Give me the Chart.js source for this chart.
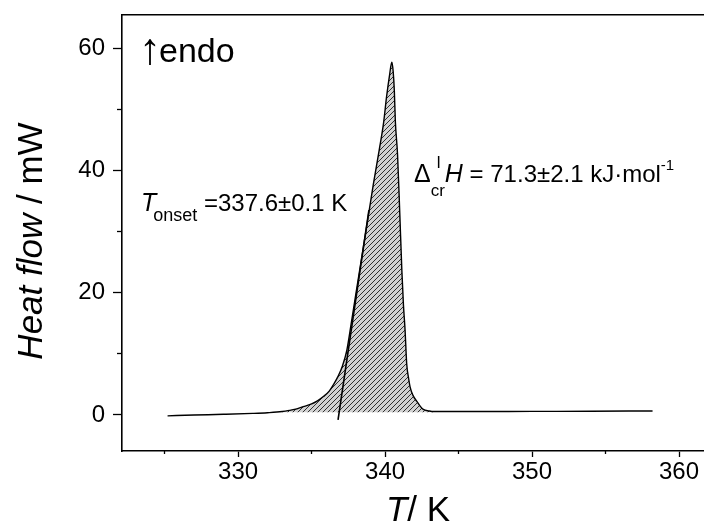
<!DOCTYPE html>
<html>
<head>
<meta charset="utf-8">
<script src="https://cdn.jsdelivr.net/npm/chart.js@4"></script>
<style>
  body { margin: 0; background: #fff; }
  #wrap { width: 704px; height: 525px; }
</style>
</head>
<body>
<div id="wrap"><canvas id="dsc" width="704" height="525"></canvas></div>
<script>
// DSC-kurva
const tempK = [
  325.2, 327, 329, 331, 332, 333, 333.5, 334, 334.5, 335, 335.4, 335.8, 336.2, 336.5, 336.8,
  337.1, 337.4, 337.7, 338.0, 338.4, 338.8, 339.2, 339.6, 339.9, 340.1, 340.3, 340.46,
  340.55, 340.63, 340.7, 340.85, 341.0, 341.14, 341.25, 341.36, 341.47, 341.6, 341.7,
  341.9, 342.16, 342.4, 342.6, 343.0, 343.3, 346, 350, 354, 358.2
];
const heatFlow = [
  -0.15, -0.02, 0.1, 0.25, 0.36, 0.55, 0.75, 1.0, 1.4, 1.8, 2.3, 3.0, 3.9, 5.0, 6.3,
  8.0, 10.6, 15.0, 19.6, 25.6, 31.6, 37.7, 43.3, 47.8, 52.0, 55.5, 57.7,
  56.2, 53.0, 48.0, 42.5, 33.0, 23.7, 18.0, 13.9, 8.4, 6.0, 4.6,
  3.2, 2.2, 1.4, 0.9, 0.65, 0.55, 0.55, 0.58, 0.6, 0.65
];

// tangent för onset
const tangentK = [336.8, 338.9];
const tangentMW = [-0.8, 33.5];

// skrafferad yta (integrerad topp)
const areaFrom = 333.0;
const areaTo = 343.3;
const areaBase = 0.45;

const xMajor = [330, 340, 350, 360];
const xMinor = [325, 335, 345, 355];
const yMajor = [0, 20, 40, 60];
const yMinor = [10, 30, 50];

const FONT = "'Liberation Sans', Arial, sans-serif";

function hatch() {
  const n = 5;
  const c = document.createElement('canvas');
  c.width = n; c.height = n;
  const g = c.getContext('2d');
  g.fillStyle = '#d2d2d2';
  g.fillRect(0, 0, n, n);
  g.strokeStyle = '#303030';
  g.lineWidth = 1;
  g.beginPath();
  g.moveTo(-1, n + 1); g.lineTo(n + 1, -1);
  g.moveTo(-1, 1); g.lineTo(1, -1);
  g.moveTo(n - 1, n + 1); g.lineTo(n + 1, n - 1);
  g.stroke();
  return g.createPattern(c, 'repeat');
}

// text i flera delar (kursiv, index, exponent)
function parts(ctx, x, y, list) {
  list.forEach(p => {
    ctx.font = (p.italic ? 'italic ' : '') + p.size + 'px ' + FONT;
    ctx.fillText(p.t, x + (p.dx || 0), y + (p.dy || 0));
    if (!p.noAdvance) x += ctx.measureText(p.t).width + (p.dx || 0);
  });
}

const textPlugin = {
  id: 'texts',
  afterDraw(chart) {
    const ctx = chart.ctx;
    ctx.save();
    ctx.fillStyle = '#000';
    ctx.textBaseline = 'alphabetic';
    ctx.textAlign = 'left';

    // ↑endo
    parts(ctx, 139, 62, [
      { t: '↑', size: 44, dy: 2 },
      { t: 'endo', size: 34, dx: -2 }
    ]);

    // T onset
    parts(ctx, 141, 211, [
      { t: 'T', size: 25, italic: true },
      { t: 'onset', size: 18, dy: 10, dx: -3 },
      { t: ' =337.6±0.1 K', size: 24 }
    ]);

    // ΔH
    parts(ctx, 414, 182, [
      { t: 'Δ', size: 25 },
      { t: 'l', size: 17, dy: -14, dx: 6, noAdvance: true },
      { t: 'cr', size: 17, dy: 14 },
      { t: 'H', size: 25, italic: true },
      { t: ' = 71.3±2.1 kJ·mol', size: 24 },
      { t: '-1', size: 15, dy: -12 }
    ]);

    // axeltitlar
    ctx.font = 'italic 35px ' + FONT;
    const a = ctx.measureText('T').width;
    ctx.font = '35px ' + FONT;
    const b = ctx.measureText('/ K').width;
    parts(ctx, 418 - (a + b) / 2, 521, [
      { t: 'T', size: 35, italic: true },
      { t: '/ K', size: 35 }
    ]);

    ctx.font = 'italic 35px ' + FONT;
    const c1 = ctx.measureText('Heat flow').width;
    ctx.font = '35px ' + FONT;
    const c2 = ctx.measureText(' / mW').width;
    ctx.translate(42, 241);
    ctx.rotate(-Math.PI / 2);
    parts(ctx, -(c1 + c2) / 2, 0, [
      { t: 'Heat flow', size: 35, italic: true },
      { t: ' / mW', size: 35 }
    ]);
    ctx.restore();
  }
};

const curve = tempK.map((t, i) => ({ x: t, y: heatFlow[i] }));
const area = curve.filter(p => p.x >= areaFrom && p.x <= areaTo);
const tangent = tangentK.map((t, i) => ({ x: t, y: tangentMW[i] }));

const xMin = 322.1, xMax = 361.7;
const yMin = -5.9, yMax = 65.4;
const tickFont = { family: FONT, size: 24 };

new Chart(document.getElementById('dsc'), {
  type: 'line',
  data: {
    datasets: [
      {
        data: area,
        borderWidth: 0,
        pointRadius: 0,
        backgroundColor: hatch(),
        fill: { value: areaBase },
        cubicInterpolationMode: 'monotone',
        order: 3
      },
      {
        data: tangent,
        borderColor: '#000',
        borderWidth: 1.6,
        pointRadius: 0,
        fill: false,
        order: 2
      },
      {
        data: curve,
        borderColor: '#000',
        borderWidth: 1.4,
        pointRadius: 0,
        fill: false,
        cubicInterpolationMode: 'monotone',
        order: 1
      }
    ]
  },
  options: {
    responsive: false,
    animation: false,
    layout: { padding: 0 },
    plugins: { legend: { display: false }, tooltip: { enabled: false } },
    scales: {
      x: {
        type: 'linear', position: 'bottom', weight: 1, min: xMin, max: xMax,
        afterBuildTicks: s => { s.ticks = xMajor.map(v => ({ value: v })); },
        afterFit: s => { s.height = 74; s.paddingLeft = 0; s.paddingRight = 0; },
        ticks: { font: tickFont, color: '#000', padding: 1, maxRotation: 0, autoSkip: false },
        grid: { drawOnChartArea: false, tickLength: 6, tickColor: '#000', tickWidth: 1.3 },
        border: { color: '#000', width: 1.6 }
      },
      xMinor: {
        type: 'linear', position: 'bottom', weight: 0, min: xMin, max: xMax,
        afterBuildTicks: s => { s.ticks = xMinor.map(v => ({ value: v })); },
        afterFit: s => { s.height = 0; },
        ticks: { display: false },
        grid: { drawOnChartArea: false, tickLength: 3, tickColor: '#000', tickWidth: 1.3 },
        border: { display: false }
      },
      xTop: {
        type: 'linear', position: 'top', min: xMin, max: xMax,
        afterFit: s => { s.height = 15; },
        ticks: { display: false },
        grid: { display: false },
        border: { color: '#000', width: 1.6 }
      },
      y: {
        type: 'linear', position: 'left', weight: 1, min: yMin, max: yMax,
        afterBuildTicks: s => { s.ticks = yMajor.map(v => ({ value: v })); },
        afterFit: s => { s.width = 122; s.paddingTop = 0; s.paddingBottom = 0; },
        ticks: { font: tickFont, color: '#000', padding: 8 },
        grid: { drawOnChartArea: false, tickLength: 9, tickColor: '#000', tickWidth: 1.3 },
        border: { color: '#000', width: 1.6 }
      },
      yMinor: {
        type: 'linear', position: 'left', weight: 0, min: yMin, max: yMax,
        afterBuildTicks: s => { s.ticks = yMinor.map(v => ({ value: v })); },
        afterFit: s => { s.width = 0; s.paddingTop = 0; s.paddingBottom = 0; },
        ticks: { display: false },
        grid: { drawOnChartArea: false, tickLength: 5, tickColor: '#000', tickWidth: 1.3 },
        border: { display: false }
      }
    }
  },
  plugins: [textPlugin]
});
</script>
</body>
</html>
